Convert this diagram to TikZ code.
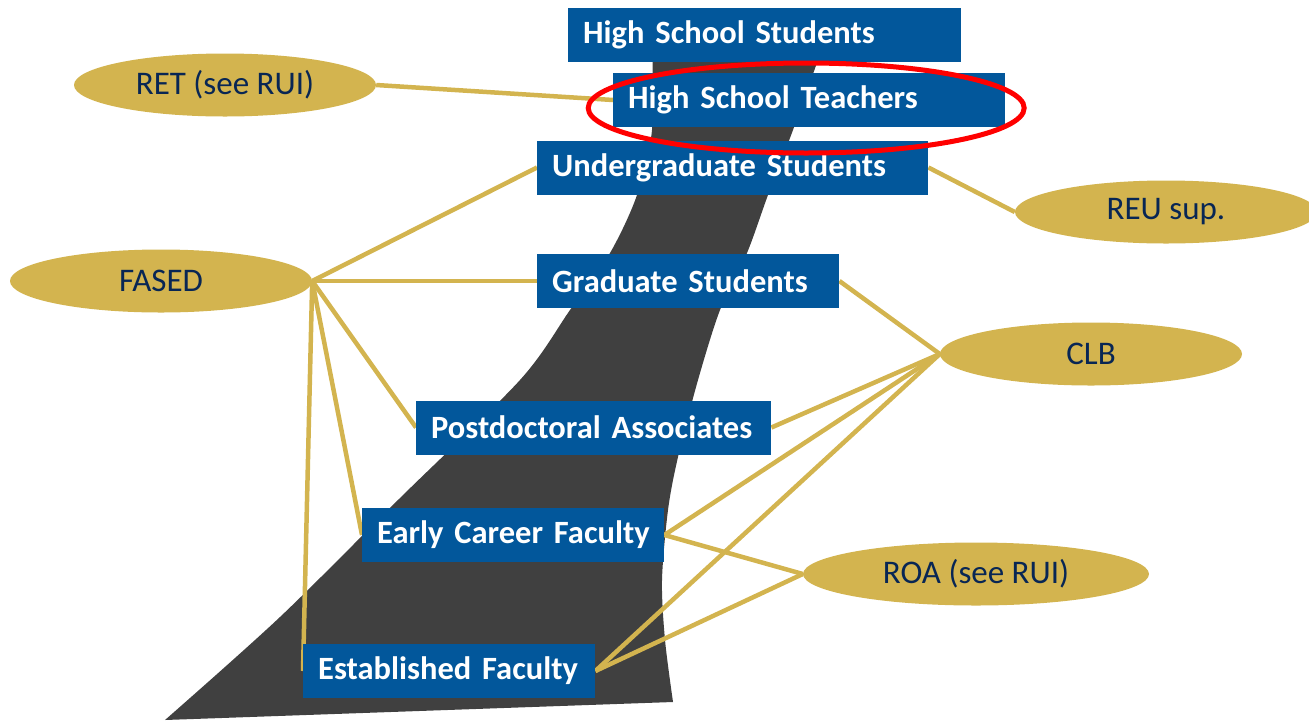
\documentclass[tikz,border=0pt]{standalone}
\usepackage{fontspec}
\setmainfont{Carlito}
\usetikzlibrary{shapes.geometric,backgrounds}
\definecolor{boxblue}{RGB}{2,87,155}
\definecolor{gold}{RGB}{211,180,79}
\definecolor{navy}{RGB}{8,38,84}
\definecolor{roadgray}{RGB}{64,64,64}
\begin{document}
\begin{tikzpicture}[x=1pt,y=-1pt,
  stage/.style={fill=boxblue,text=white,font=\fontsize{32.5}{38}\selectfont\bfseries,anchor=west,minimum height=54pt,inner ysep=0pt,inner xsep=15pt,align=left,text width=#1},
  prog/.style={ellipse,fill=gold,text=navy,font=\fontsize{33}{38}\selectfont,minimum width=#1,minimum height=63pt,inner sep=0pt},
  prog/.default=302pt,
  link/.style={gold,line width=4.5pt}]
\useasboundingbox (0,0) rectangle (1309,721);
%Career stages
\node[stage=363pt] (hss) at (568,34.5) {\mbox{High School Students}};
\node[stage=362pt] (hst) at (613,100) {\mbox{High School Teachers}};
\node[stage=361pt] (ugs) at (537,167.5) {\mbox{Undergraduate Students}};
\node[stage=272pt] (gs) at (537,281) {\mbox{Graduate Students}};
\node[stage=325pt] (pda) at (416,427.5) {\mbox{Postdoctoral Associates}};
\node[stage=272pt] (ecf) at (362,535) {\mbox{Early Career Faculty}};
\node[stage=262pt] (ef) at (303,671) {\mbox{Established Faculty}};
%Programs
\node[prog] (ret) at (225,85) {RET (see RUI)};
\node[prog] (fased) at (161,281) {FASED};
\node[prog] (reu) at (1166,212) {REU sup.};
\node[prog] (clb) at (1091,354) {CLB};
\node[prog=346pt] (roa) at (976,574) {ROA (see RUI)};
\begin{scope}[on background layer]
%Road
\fill[roadgray] plot[smooth] coordinates {(652,40) (652,130) (637,195) (610,253) (570,310) (520,380) (400,498) (280,617) (165,720)}
  -- plot[smooth] coordinates {(673,702) (665,640) (662,580) (668,510) (678,457) (698,380) (720,310) (747,253) (768,195) (793,130) (825,40)} -- cycle;
%Links
\draw[link] (ret.east) -- (hst.west);
\draw[link] (ugs.east) -- (reu.west);
\draw[link] (fased.east) -- (ugs.west);
\draw[link] (fased.east) -- (gs.west);
\draw[link] (fased.east) -- (pda.west);
\draw[link] (fased.east) -- (ecf.west);
\draw[link] (fased.east) -- (ef.west);
\draw[link] (clb.west) -- (gs.east);
\draw[link] (clb.west) -- (pda.east);
\draw[link] (clb.west) -- (ecf.east);
\draw[link] (clb.west) -- (ef.east);
\draw[link] (roa.west) -- (ecf.east);
\draw[link] (roa.west) -- (ef.east);
\end{scope}
%Highlight
\draw[red,line width=5pt] (hst.center) ++(-3,8) ellipse (218 and 45);
\end{tikzpicture}
\end{document}
